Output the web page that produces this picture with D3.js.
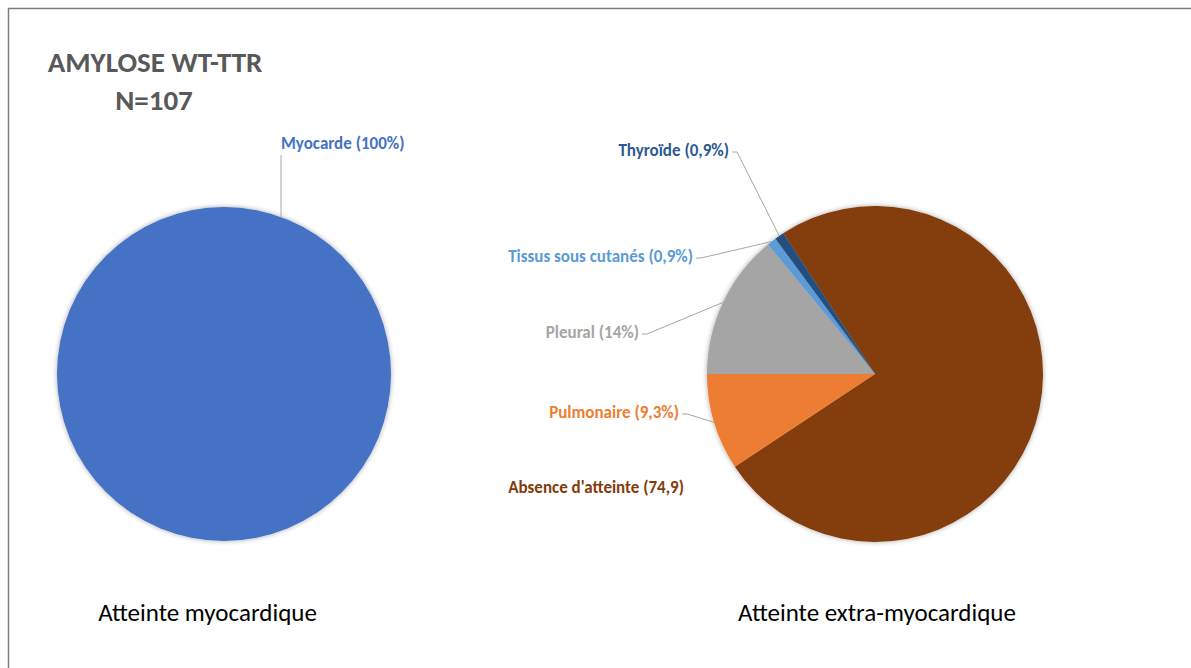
<!DOCTYPE html>
<html>
<head>
<meta charset="utf-8">
<script src="https://cdn.jsdelivr.net/npm/d3@7"></script>
<style>
  body { margin: 0; background: #fff; }
  svg { display: block; font-family: Carlito, Lato, "Open Sans", sans-serif; }
</style>
</head>
<body>
<svg width="1191" height="668"></svg>
<script>
// data
const leftLabels = ["Myocarde (100%)"];
const leftValues = [100];

const rightCategories = ["Absence d'atteinte", "Pulmonaire", "Pleural", "Tissus sous cutanés", "Thyroïde"];
const rightValues = [74.9, 9.3, 14, 0.9, 0.9];
const rightLabels = ["Absence d'atteinte (74,9)", "Pulmonaire (9,3%)", "Pleural (14%)", "Tissus sous cutanés (0,9%)", "Thyroïde (0,9%)"];

const titleLines = ["AMYLOSE WT-TTR", "N=107"];
const chartTitles = ["Atteinte myocardique", "Atteinte extra-myocardique"];

// styles
const sliceColor = d3.scaleOrdinal()
  .domain(rightCategories)
  .range(["#843C0C", "#ED7D31", "#A5A5A5", "#5B9BD5", "#22507F"]);
const labelColor = d3.scaleOrdinal()
  .domain(rightCategories)
  .range(["#843C0C", "#ED7D31", "#A5A5A5", "#5B9BD5", "#2C5A94"]);

const width = 1191, height = 668;
const svg = d3.select("svg");

// shadow like excel
const defs = svg.append("defs");
defs.append("filter")
  .attr("id", "shadow")
  .attr("x", "-10%").attr("y", "-10%").attr("width", "120%").attr("height", "120%")
  .append("feDropShadow")
    .attr("dx", 0).attr("dy", 0)
    .attr("stdDeviation", 2.5)
    .attr("flood-color", "#000")
    .attr("flood-opacity", 0.35);

// frame
svg.append("path")
  .attr("d", `M8.5,${height} L8.5,8.5 L${width},8.5`)
  .attr("fill", "none")
  .attr("stroke", "#7f7f7f")
  .attr("stroke-width", 1.5);

// main title
svg.append("text")
  .attr("x", 155).attr("y", 72)
  .attr("text-anchor", "middle")
  .attr("font-size", "29px")
  .attr("font-weight", "bold")
  .attr("fill", "#595959")
  .text(titleLines[0]);
svg.append("text")
  .attr("x", 154).attr("y", 110)
  .attr("text-anchor", "middle")
  .attr("font-size", "29px")
  .attr("font-weight", "bold")
  .attr("fill", "#595959")
  .text(titleLines[1]);

// pie 1: myocardique
const leftCx = 224, leftCy = 374, leftR = 167;
const g1 = svg.append("g").attr("transform", `translate(${leftCx}, ${leftCy})`);

const pie1 = d3.pie().sort(null);
const arc1 = d3.arc().innerRadius(0).outerRadius(leftR);

g1.selectAll("path.slice")
  .data(pie1(leftValues))
  .enter().append("path")
    .attr("class", "slice")
    .attr("d", arc1)
    .attr("fill", "#4472C4")
    .attr("filter", "url(#shadow)");

// label + leader (leader drops vertically to the pie edge)
const myoX = 57, myoY = -225;
g1.append("line")
  .attr("x1", myoX).attr("y1", myoY + 6)
  .attr("x2", myoX).attr("y2", -Math.sqrt(leftR * leftR - myoX * myoX))
  .attr("stroke", "#a6a6a6").attr("stroke-width", 1);
g1.append("text")
  .attr("x", myoX).attr("y", myoY)
  .attr("font-size", "17px")
  .attr("font-weight", "bold")
  .attr("fill", "#4472C4")
  .text(leftLabels[0]);

// pie 2: extra-myocardique
const rightCx = 875, rightCy = 374, rightR = 168;
const g2 = svg.append("g").attr("transform", `translate(${rightCx}, ${rightCy})`);

const startA = -33.1 * Math.PI / 180;
const pie2 = d3.pie().sort(null).startAngle(startA).endAngle(startA + 2 * Math.PI);
const arc2 = d3.arc().innerRadius(0).outerRadius(rightR);
const arcs2 = pie2(rightValues);

const gPie = g2.append("g").attr("filter", "url(#shadow)");
gPie.selectAll("path.slice")
  .data(arcs2)
  .enter().append("path")
    .attr("class", "slice")
    .attr("d", arc2)
    .attr("fill", (d, i) => sliceColor(rightCategories[i]));

// label anchor (text end point, relative to pie centre), leader or not
const labelPos = [
  {x: -191, y: 119, leader: false},
  {x: -196, y: 44, leader: true},
  {x: -236, y: -36, leader: true},
  {x: -182, y: -112, leader: true},
  {x: -146, y: -218, leader: true}
];

arcs2.forEach(function(a, i) {
  const p = labelPos[i];
  const mid = (a.startAngle + a.endAngle) / 2;
  const ex = Math.sin(mid) * rightR, ey = -Math.cos(mid) * rightR;
  if (p.leader) {
    const ly = p.y - 4;
    g2.append("polyline")
      .attr("points", `${p.x + 3},${ly} ${p.x + 8},${ly} ${ex},${ey}`)
      .attr("fill", "none")
      .attr("stroke", "#a6a6a6").attr("stroke-width", 1);
  }
  g2.append("text")
    .attr("x", p.x).attr("y", p.y)
    .attr("text-anchor", "end")
    .attr("font-size", "17px")
    .attr("font-weight", "bold")
    .attr("fill", labelColor(rightCategories[i]))
    .text(rightLabels[i]);
});

// bottom titles
svg.append("text")
  .attr("x", 207.5).attr("y", 621)
  .attr("text-anchor", "middle")
  .attr("font-size", "25px")
  .attr("fill", "#000")
  .text(chartTitles[0]);
svg.append("text")
  .attr("x", 877).attr("y", 621)
  .attr("text-anchor", "middle")
  .attr("font-size", "25px")
  .attr("fill", "#000")
  .text(chartTitles[1]);
</script>
</body>
</html>
